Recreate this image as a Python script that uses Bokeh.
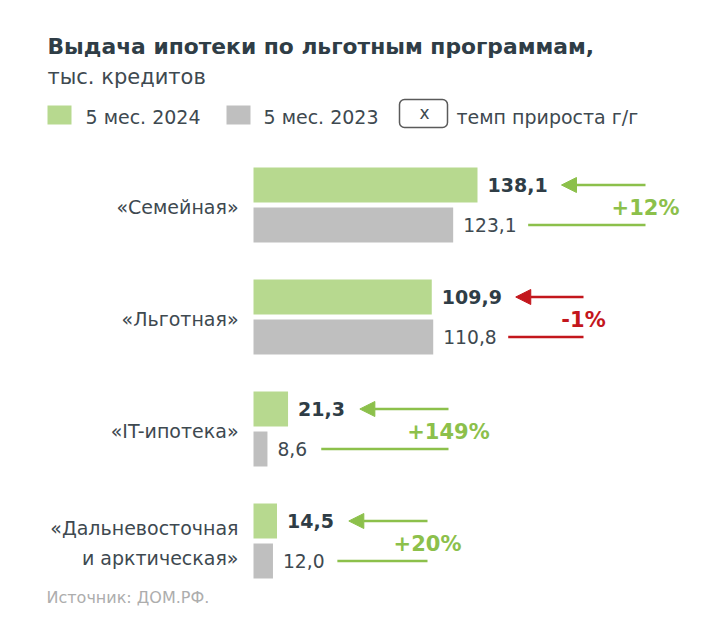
from bokeh.plotting import figure
from bokeh.models import Range1d, Arrow, NormalHead
from bokeh.core.properties import value
from bokeh.embed import file_html
from bokeh.resources import INLINE

# ---------------- data ----------------
categories = ["«Семейная»", "«Льготная»", "«IT-ипотека»", "«Дальневосточная\nи арктическая»"]
values_2024 = [138.1, 109.9, 21.3, 14.5]
values_2023 = [123.1, 110.8, 8.6, 12.0]
growth_labels = ["+12%", "-1%", "+149%", "+20%"]
legend_labels = ["5 мес. 2024", "5 мес. 2023", "темп прироста г/г"]
title_text = "Выдача ипотеки по льготным программам,"
subtitle_text = "тыс. кредитов"
source_text = "Источник: ДОМ.РФ."

# ---------------- layout / style ----------------
W, H = 710, 610
S = 1.622          # px per unit (x)
ROW = 112.0        # px per category (y)
X0_PX = 253.0      # px of x=0
Y0_PX = 204.5      # px of category 0 centre
ARROW_END_PX = [645, 583, 448, 427]

GREEN_BAR = "#b7d98f"
GRAY_BAR = "#bfbfbf"
GREEN = "#8cc04b"
RED = "#c3161c"
DARK = "#2f3d46"
TXT = "#3e4950"
FONT = value("DejaVu Sans")


def X(px):
    return (px - X0_PX) / S


def Y(py):
    return (py - Y0_PX) / ROW


p = figure(width=W, height=H, output_backend="svg", toolbar_location=None,
           x_axis_type=None, y_axis_type=None, min_border=0,
           x_range=Range1d(X(0), X(W)), y_range=Range1d(Y(H), Y(0)))
p.outline_line_color = None
p.grid.visible = False
p.background_fill_color = "white"
p.border_fill_color = "white"

idx = list(range(len(categories)))
off = 20 / ROW
bh = 35 / ROW
y24 = [i - off for i in idx]
y23 = [i + off for i in idx]

p.hbar(y=y24, left=0, right=values_2024, height=bh, color=GREEN_BAR, line_color=None)
p.hbar(y=y23, left=0, right=values_2023, height=bh, color=GRAY_BAR, line_color=None)

fmt = lambda v: f"{v:.1f}".replace(".", ",")
lab24 = [fmt(v) for v in values_2024]
lab23 = [fmt(v) for v in values_2023]
pad = 10 / S

p.text(x=[v + pad for v in values_2024], y=y24, text=lab24, text_font=FONT,
       text_font_style="bold", text_font_size="19px", text_color=DARK,
       text_align="left", text_baseline="middle")
p.text(x=[v + pad for v in values_2023], y=y23, text=lab23, text_font=FONT,
       text_font_size="18.7px", text_color=TXT,
       text_align="left", text_baseline="middle")

# category labels
p.text(x=[X(238)] * len(idx), y=[i + 2 / ROW for i in idx], text=categories, text_font=FONT,
       text_font_size="19px", text_color=TXT, text_align="right", text_baseline="middle",
       text_line_height=1.4)

# growth arrows
for i in idx:
    col = GREEN if not growth_labels[i].startswith("-") else RED
    tail = X(ARROW_END_PX[i])
    tip = values_2024[i] + (23 + 12.2 * len(lab24[i])) / S
    lstart = values_2023[i] + (22 + 10.6 * len(lab23[i])) / S
    p.add_layout(Arrow(x_start=tail, y_start=y24[i], x_end=tip, y_end=y24[i],
                       line_color=col, line_width=2.5,
                       end=NormalHead(size=15, fill_color=col, line_color=col, line_width=1)))
    p.segment(x0=[lstart], y0=[y23[i]], x1=[tail], y1=[y23[i]], line_color=col, line_width=2.5)
    p.text(x=[tail], y=[i + 3 / ROW], text=[growth_labels[i]], text_font=FONT,
           text_font_style="bold", text_font_size="21px", text_color=col,
           text_align="center", text_baseline="middle")

# title
p.text(x=[X(47)], y=[Y(46)], text=[title_text], text_font=FONT, text_font_style="bold",
       text_font_size="21.8px", text_color=DARK, text_align="left", text_baseline="middle")
p.text(x=[X(47)], y=[Y(76)], text=[subtitle_text], text_font=FONT,
       text_font_size="21px", text_color=TXT, text_align="left", text_baseline="middle")

# legend
LY = 115
p.quad(left=[X(47), X(226)], right=[X(71), X(250)],
       top=[Y(LY - 10), Y(LY - 10)], bottom=[Y(LY + 9), Y(LY + 9)],
       fill_color=[GREEN_BAR, GRAY_BAR], line_color=None)
p.text(x=[X(85), X(263)], y=[Y(LY + 1)] * 2, text=legend_labels[:2], text_font=FONT,
       text_font_size="19px", text_color=TXT, text_align="left", text_baseline="middle")
p.quad(left=[X(399)], right=[X(447)], top=[Y(99)], bottom=[Y(127)],
       fill_color="white", line_color="#5a5a5a", line_width=1.5, border_radius=5)
p.text(x=[X(424)], y=[Y(112)], text=["x"], text_font=FONT, text_font_size="17px",
       text_color=TXT, text_align="center", text_baseline="middle")
p.text(x=[X(456)], y=[Y(LY + 1)], text=[legend_labels[2]], text_font=FONT,
       text_font_size="19px", text_color=TXT, text_align="left", text_baseline="middle")

# source
p.text(x=[X(46)], y=[Y(597)], text=[source_text], text_font=FONT, text_font_size="16px",
       text_color="#adadad", text_align="left", text_baseline="middle")

open("out.html", "w").write(file_html(p, INLINE))
